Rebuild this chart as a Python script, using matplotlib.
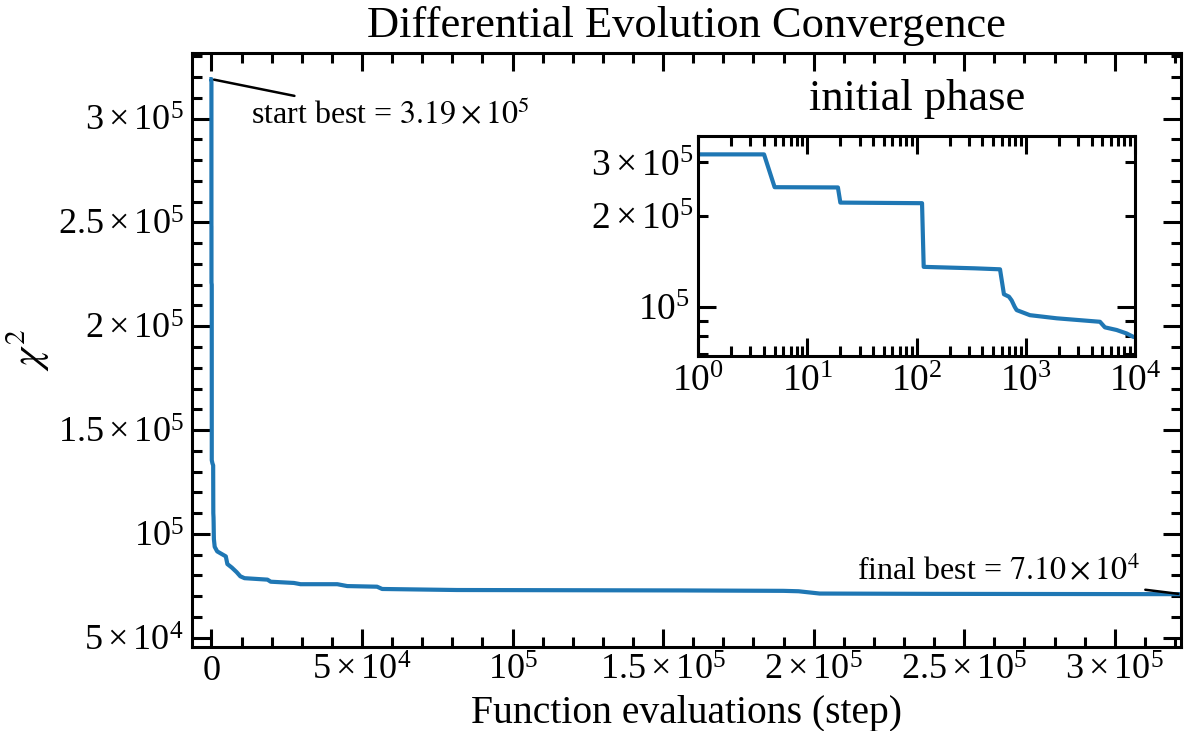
import numpy as np
import matplotlib
matplotlib.use("Agg")
import matplotlib.pyplot as plt
from matplotlib.ticker import FuncFormatter, MultipleLocator, LogLocator

plt.rcParams['font.family'] = 'serif'
plt.rcParams['font.serif'] = ['Liberation Serif', 'DejaVu Serif']
plt.rcParams['mathtext.fontset'] = 'stix'

# best chi^2 so far vs. number of function evaluations
evals = [1, 4, 5, 19, 20, 112, 116, 340, 580, 630, 700, 741, 790, 824,
         1090, 1915, 4775, 5300, 6780, 8380, 9600, 11000, 18600, 19700,
         27400, 29600, 41800, 45100, 55000, 56700, 81600, 155700, 190000,
         195000, 202000, 240000, 322000]
best = [319000, 319000, 248500, 248000, 221000, 220000, 135500, 134000,
        133000, 110000, 108000, 105000, 100000, 97500, 93800, 91600, 89200,
        85500, 83800, 81600, 79600, 78700, 78000, 77000, 76400, 75800,
        75800, 74900, 74600, 73500, 73000, 72800, 72600, 72400, 71300,
        71150, 71000]

start_best = best[0]
final_best = best[-1]


def sci(v, pos=None):
    if v == 0:
        return '$\\mathdefault{0}$'
    e = int(np.floor(np.log10(abs(v)) + 1e-9))
    m = v / 10 ** e
    if abs(m - 1) < 1e-9:
        return '$\\mathdefault{10^{%d}}$' % e
    return '$\\mathdefault{%g\\times10^{%d}}$' % (m, e)


fig = plt.figure(figsize=(11.89, 7.31), dpi=100)
ax = fig.add_axes([0.1615, 0.1153, 0.8318, 0.8117])

ax.plot(evals, best, color='#1f77b4', lw=3.0)
ax.set_xlim(-6440, evals[-1])
ax.set_ylim(45700, 331400)

ax.xaxis.set_major_locator(MultipleLocator(50000))
ax.xaxis.set_minor_locator(MultipleLocator(10000))
ax.yaxis.set_major_locator(MultipleLocator(50000))
ax.yaxis.set_minor_locator(MultipleLocator(10000))
ax.xaxis.set_major_formatter(FuncFormatter(sci))
ax.yaxis.set_major_formatter(FuncFormatter(sci))

ax.tick_params(which='both', direction='in', top=True, right=True,
               labelsize=26, width=2.2)
ax.tick_params(which='major', length=13, pad=6)
ax.tick_params(which='minor', length=7)
for s in ax.spines.values():
    s.set_linewidth(2.2)

ax.set_xlabel('Function evaluations (step)', fontsize=28.5, labelpad=5)
ax.set_ylabel('$\\chi^2$', fontsize=30, labelpad=4)
ax.set_title('Differential Evolution Convergence', fontsize=32, pad=12)

ax.annotate('start best = $3.19\\times10^{5}$', xy=(evals[0], start_best),
            xytext=(59400, 301600), ha='center', va='center', fontsize=23,
            arrowprops=dict(arrowstyle='-', color='black', lw=1.8))
ax.annotate('final best = $7.10\\times10^{4}$', xy=(evals[-1], final_best),
            xytext=(261300, 81900), ha='center', va='center', fontsize=23,
            arrowprops=dict(arrowstyle='-', color='black', lw=1.8))

# inset: log-log view of the first 10^4 evaluations
ins = fig.add_axes([0.5873, 0.5134, 0.3673, 0.3006])
ins.plot(evals, best, color='#1f77b4', lw=3.0)
ins.set_xscale('log')
ins.set_yscale('log')
ins.set_xlim(1, 1e4)
ins.set_ylim(68900, 367000)
ins.xaxis.set_major_locator(LogLocator(base=10, numticks=12))
ins.xaxis.set_minor_locator(LogLocator(base=10, subs=np.arange(2, 10), numticks=20))
ins.tick_params(which='both', direction='in', top=True, right=True,
                labelsize=27, width=2.2)
ins.tick_params(which='major', length=13, pad=6)
ins.tick_params(which='minor', length=7)
for s in ins.spines.values():
    s.set_linewidth(2.2)
ins.set_title('initial phase', fontsize=32, pad=19)

fig.savefig('out.png', dpi=100)
